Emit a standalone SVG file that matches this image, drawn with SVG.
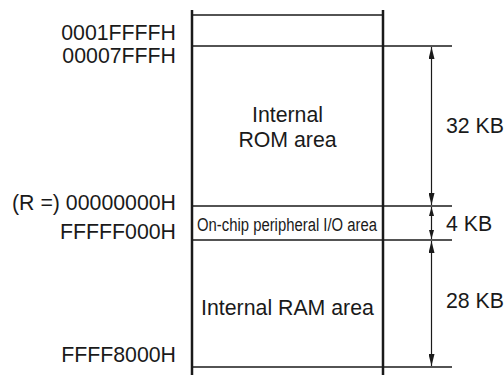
<svg xmlns="http://www.w3.org/2000/svg" width="504" height="375" viewBox="0 0 504 375">
<defs>
<style>
text{font-family:"Liberation Sans",Arial,sans-serif;font-size:21.3px;fill:#1a1a1a}
.addr{text-anchor:end}
.mid{text-anchor:middle}
.io{font-size:19px}
.wall{stroke:#1a1a1a;stroke-width:2.5;fill:none}
.hl{stroke:#1a1a1a;stroke-width:1.3;fill:none}
.dim{stroke:#1a1a1a;stroke-width:1.2;fill:none}
.ah{fill:#1a1a1a;stroke:none}
</style>
<marker id="big" viewBox="0 0 12 6" refX="12" refY="3" markerWidth="12" markerHeight="6" markerUnits="userSpaceOnUse" orient="auto-start-reverse">
<path class="ah" d="M0,0 L12,3 L0,6 Z"/>
</marker>
<marker id="small" viewBox="0 0 9 5" refX="9" refY="2.5" markerWidth="9" markerHeight="5" markerUnits="userSpaceOnUse" orient="auto-start-reverse">
<path class="ah" d="M0,0 L9,2.5 L0,5 Z"/>
</marker>
</defs>
<rect width="504" height="375" fill="#fff"/>

<g id="map-frame">
<line class="wall" x1="192" y1="10" x2="192" y2="375"/>
<line class="wall" x1="383" y1="10" x2="383" y2="375"/>
</g>

<g id="reserved-top">
<line class="hl" x1="192" y1="15" x2="383" y2="15"/>
<text class="addr" x="176" y="40">0001FFFFH</text>
</g>

<g id="rom-area">
<line class="hl" x1="192" y1="46" x2="452" y2="46"/>
<text class="addr" x="176" y="63">00007FFFH</text>
<text class="mid" x="287.5" y="122">Internal</text>
<text class="mid" x="287.5" y="147">ROM area</text>
</g>

<g id="io-area">
<line class="hl" x1="192" y1="206" x2="452" y2="206"/>
<text class="addr" x="176" y="210">(R =) 00000000H</text>
<text class="mid io" transform="translate(287,231) scale(0.782,1)" x="0" y="0">On-chip peripheral I/O area</text>
</g>

<g id="ram-area">
<line class="hl" x1="192" y1="240" x2="452" y2="240"/>
<text class="addr" x="176" y="239">FFFFF000H</text>
<text class="mid" x="287.5" y="315">Internal RAM area</text>
<line class="hl" x1="192" y1="367" x2="452" y2="367"/>
<text class="addr" x="176" y="362">FFFF8000H</text>
</g>

<g id="connectors">
<line class="dim" x1="431.5" y1="47" x2="431.5" y2="205" marker-start="url(#big)" marker-end="url(#big)"/>
<line class="dim" x1="431.5" y1="207" x2="431.5" y2="239" marker-start="url(#small)" marker-end="url(#small)"/>
<line class="dim" x1="431.5" y1="241" x2="431.5" y2="366" marker-start="url(#big)" marker-end="url(#big)"/>
<text x="446" y="133">32 KB</text>
<text x="446" y="231">4 KB</text>
<text x="446" y="308">28 KB</text>
</g>
</svg>
